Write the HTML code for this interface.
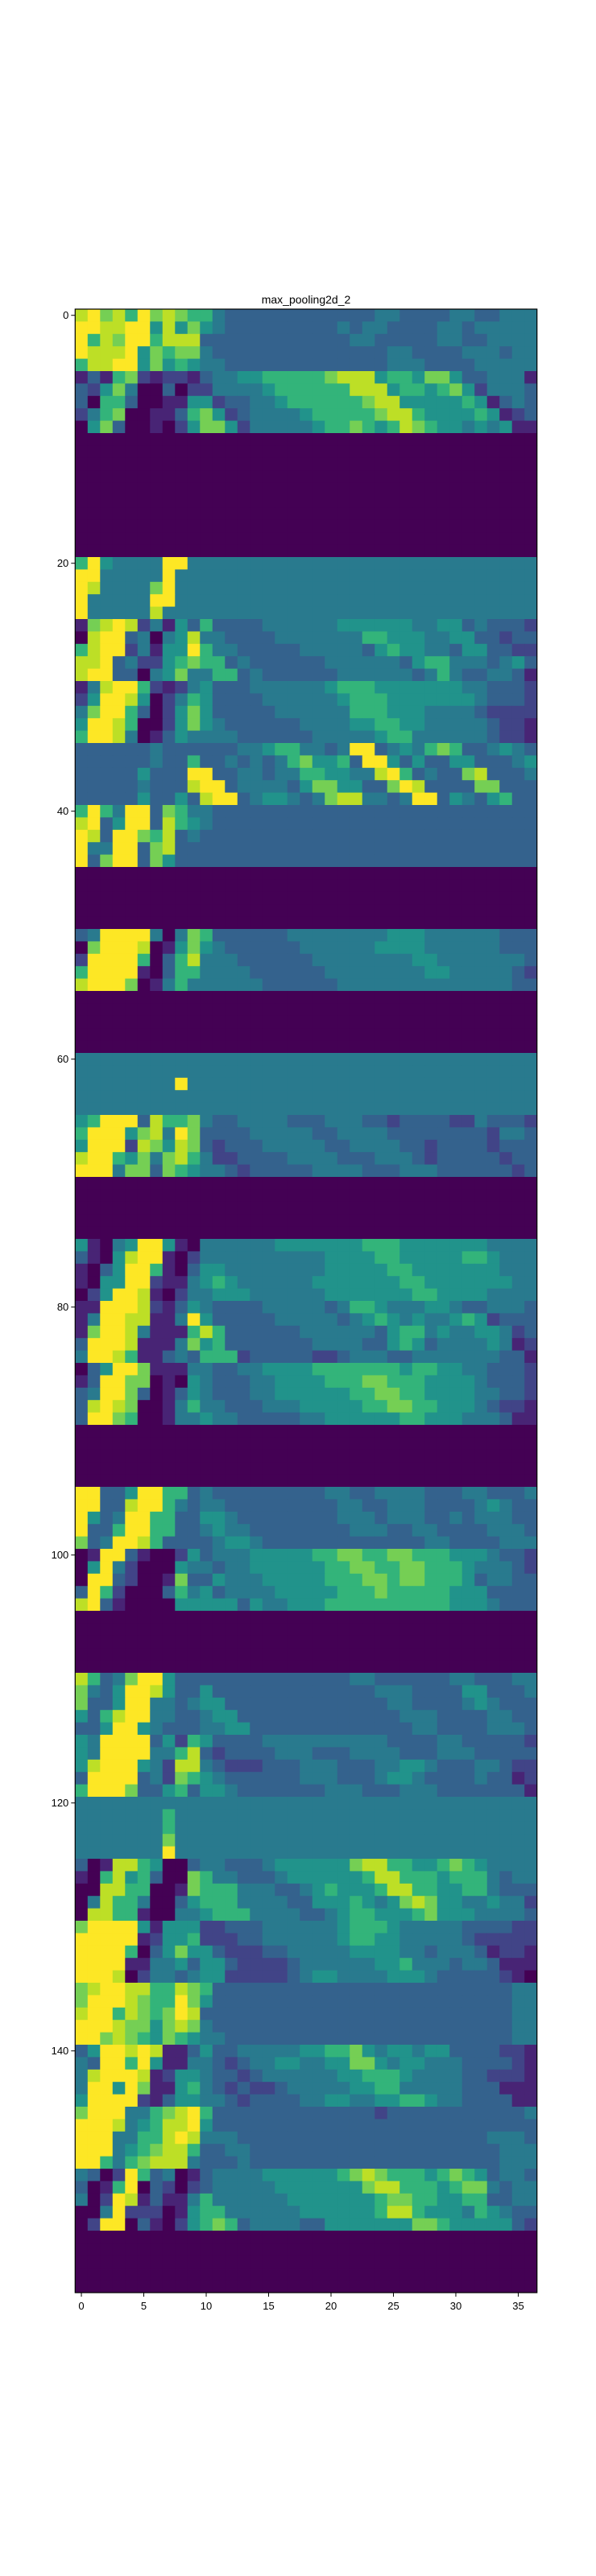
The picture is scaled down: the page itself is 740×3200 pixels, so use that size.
<!DOCTYPE html>
<html>
<head>
<meta charset="utf-8">
<style>
html,body{margin:0;padding:0;background:#fff;}
svg{display:block;}
text{font-family:"Liberation Sans","DejaVu Sans",sans-serif;fill:#000;}
</style>
</head>
<body>
<svg id="chart" width="740" height="3200" viewBox="0 0 740 3200" xmlns="http://www.w3.org/2000/svg">
  <rect x="0" y="0" width="740" height="3200" fill="#fff"/>
  <text x="380" y="377" text-anchor="middle" font-size="14">max_pooling2d_2</text>
  <g id="cells"></g>
  <rect id="frame" x="93.3" y="384" width="573.4" height="2464" fill="none" stroke="#000" stroke-width="1.2"/>
  <g id="xaxis"></g>
  <g id="yaxis"></g>
</svg>
<script>
const nCols = 37;
const xTickValues = [0, 5, 10, 15, 20, 25, 30, 35];
const yTickValues = [0, 20, 40, 60, 80, 100, 120, 140];
const levelValues = [0, 0.1, 0.2, 0.31, 0.41, 0.51, 0.65, 0.79, 0.9, 1.0];
const Z = "0000000000000000000000000000000000000";
const rowCodes = [
"8978697876643333333333334433334433444",
"9988995857543333333334344333344344444",
"9687996888333333333333443333344334444",
"9888957677433333333333333443333444344",
"6889957565443333333333333444333344444",
"1316721221344556666678885665775334441",
"3257400302244445666666888566567524443",
"3066300115523344566666678855555651343",
"2467001136752344445666667886555565123",
"0573001025775244444566765687655454511",
Z,Z,Z,Z,Z,Z,Z,Z,Z,Z,
"6954444994444444444444444444444444444",
"9944444944444444444444444444444444444",
"9844447944444444444444444444444444444",
"9444449944444444444444444444444444444",
"9444448444444444444444444444444444444",
"1789824153633334444445555554455343332",
"0899340458443333444444466555445533233",
"6899241559644333334444435655443553322",
"8893422567663433333344444435664443453",
"8993304574466343333334444443464334431",
"1489962124533344444456665555555443332",
"2599850246533334444445666555555543332",
"4799630257533333444444666555444432222",
"5998600257543333334444556655444443221",
"6998401354444333333444445664444443221",
"3333334333333445664434993454676334543",
"3333334336334343467556399535335533345",
"3333353339933443446655448963433783334",
"3333343338993444435775533798333377333",
"3333353353899345543478844349935435633",
"6964993764433333333333333333333333333",
"8935993865433333333333333333333333333",
"9839976834333333333333333333333333333",
"9449937833333333333333333333333333333",
"9379937533333333333333333333333333333",
Z,Z,Z,Z,Z,
"3499994047633333344444444555444444333",
"0799980157543333334444445555444444333",
"2999960368444333333444444445544444443",
"6999910366444433333344444444554444432",
"8999701464444443333334444444444444433",
Z,Z,Z,Z,Z,
"4444444444444444444444444444444444444",
"4444444444444444444444444444444444444",
"4444444494444444444444444444444444444",
"4444444444444444444444444444444444444",
"4444444444444444444444444444444444444",
"5699938667433444433344433233332243332",
"6999578497333344444334444333333332443",
"5999287587323334444433444433233332333",
"8996574786422333344443334443233333233",
"9994773765443233333444433344433333323",
Z,Z,Z,Z,Z,
"5104599510444444555555566655555554444",
"3105899102444444444455556655555665444",
"1035996103554444444455555665555555444",
"1055992114565444444555555566555555544",
"0259981024455544444455555556655554444",
"1199982135433334444434665444554334443",
"1499881149533333444443456545445652333",
"1799841116863333334444443566454455423",
"3999811147563333333444433565344445412",
"4998611343666233333223444334444444331",
"0359971114433445555666666656655443332",
"1399770105433344555566677666555543332",
"3499730135433344555555667766555544332",
"3898700146443334445555566776655543221",
"3997600144544333334455555566555444311",
Z,Z,Z,Z,Z,
"9933599663433333333344334444333443334",
"9933899643443333333334433444333345433",
"9534996633554333333334443444334344433",
"9336996633454433333333444334433334443",
"7349986333345543333333333333443333444",
"0199310025344455555667766776665554332",
"0594200054434455555566776677666544432",
"0993200173354445555566677677666534433",
"3962000364534444555556667666665553333",
"8931000055555354455566666666665554333",
Z,Z,Z,Z,Z,
"8634799533333333333333443333334433344",
"7435998533533333333333334443333553334",
"7335994434553333333333333443333454333",
"5368994433455333333333333344433334433",
"3359954333445533333333333334433334443",
"5499993526533334444444444333344333332",
"5499994468323333444333444433344433333",
"5899954288432223334443334455433344322",
"3999934276543333334443334554333343312",
"6999733563554333333344433344433333331",
"4444444444444444444444444444444444444",
"4444444644444444444444444444444444444",
"4444444644444444444444444444444444444",
"4444444744444444444444444444444444444",
"4444444944444444444444444444444444444",
"3018865003443334555555788665567654444",
"1068563007644333455555568866656664344",
"0088660017666444334565556886655664333",
"0486640035666444433555654578755445442",
"0886610044566644443345665556755544443",
"7999951555223334444445666544444333322",
"9999912556222334444445665544444322222",
"9999603575532223344444555544344431221",
"9999114453553222234444445564443443111",
"9998024434552222234554444555433333210",
"7899886687633333333333333333333333344",
"7999876697533333333333333333333333344",
"8996876798333333333333333333333333344",
"9998775787433333333333333333333333344",
"9978765765443333333333333333333333344",
"3599898113533444445566754554553333221",
"4399695114432344554455775455444333321",
"4899981255433234444445566654444332221",
"4995971156432322344444556644444333111",
"5999921355443233334455445566544333311",
"7999446789633333333333332333333333334",
"9998456889533333333333333333333333333",
"9994466898444333333333333333333334443",
"9994567886334433333333333333333333444",
"9964678884333433333333333333333333444",
"4302963401344445555556787666567653443",
"3016903202344444555555578866656774344",
"4029813114644444455555556776655663344",
"0049222015664444445555556886555465433",
"0299031025676344443355555557765555532",
Z,Z,Z,Z,Z
];

const viridisStops = [
  [0.0,[68,1,84]],[0.1,[72,36,117]],[0.2,[65,68,135]],[0.3,[53,95,141]],
  [0.4,[42,120,142]],[0.5,[33,145,140]],[0.6,[34,168,132]],[0.7,[68,191,112]],
  [0.8,[122,209,81]],[0.9,[189,223,38]],[1.0,[253,231,37]]
];
function viridis(t){
  t=Math.max(0,Math.min(1,t));
  for(let i=1;i<viridisStops.length;i++){
    if(t<=viridisStops[i][0]){
      const a=viridisStops[i-1],b=viridisStops[i];
      const f=(t-a[0])/(b[0]-a[0]);
      const c=a[1].map((v,k)=>Math.round(v+(b[1][k]-v)*f));
      return "rgb("+c.join(",")+")";
    }
  }
  return "rgb(253,231,37)";
}

const NS="http://www.w3.org/2000/svg";
const plotLeft=93.3, plotTop=384, plotW=573.4, plotH=2464;
const nRows=rowCodes.length;
const cw=plotW/nCols, ch=plotH/nRows;
function xScale(c){return plotLeft+c*cw;}
function yScale(r){return plotTop+r*ch;}

const cellsG=document.getElementById("cells");
rowCodes.forEach((code,r)=>{
  let s=code;
  while(s.length<nCols) s+=s[s.length-1];
  s=s.slice(0,nCols);
  for(let c=0;c<nCols;c++){
    const v=levelValues[parseInt(s[c],10)];
    const rect=document.createElementNS(NS,"rect");
    rect.setAttribute("x",xScale(c).toFixed(2));
    rect.setAttribute("y",yScale(r).toFixed(2));
    rect.setAttribute("width",(cw+0.4).toFixed(2));
    rect.setAttribute("height",(ch+0.4).toFixed(2));
    rect.setAttribute("fill",viridis(v));
    
    
    cellsG.appendChild(rect);
  }
});

const xg=document.getElementById("xaxis");
xTickValues.forEach(v=>{
  const x=xScale(v+0.5);
  const ln=document.createElementNS(NS,"line");
  ln.setAttribute("x1",x);ln.setAttribute("x2",x);
  ln.setAttribute("y1",plotTop+plotH);ln.setAttribute("y2",plotTop+plotH+5);
  ln.setAttribute("stroke","#000");ln.setAttribute("stroke-width","1");
  
  
  xg.appendChild(ln);
  const t=document.createElementNS(NS,"text");
  t.setAttribute("x",x);t.setAttribute("y",plotTop+plotH+21);
  t.setAttribute("text-anchor","middle");t.setAttribute("font-size","13");
  t.textContent=String(v);
  
  
  xg.appendChild(t);
});
const yg=document.getElementById("yaxis");
yTickValues.forEach(v=>{
  const y=yScale(v+0.5);
  const ln=document.createElementNS(NS,"line");
  ln.setAttribute("x1",plotLeft-5);ln.setAttribute("x2",plotLeft);
  ln.setAttribute("y1",y);ln.setAttribute("y2",y);
  ln.setAttribute("stroke","#000");ln.setAttribute("stroke-width","1");
  
  
  yg.appendChild(ln);
  const t=document.createElementNS(NS,"text");
  t.setAttribute("x",plotLeft-8);t.setAttribute("y",y+4.5);
  t.setAttribute("text-anchor","end");t.setAttribute("font-size","13");
  t.textContent=String(v);
  
  
  yg.appendChild(t);
});
</script>
</body>
</html>
